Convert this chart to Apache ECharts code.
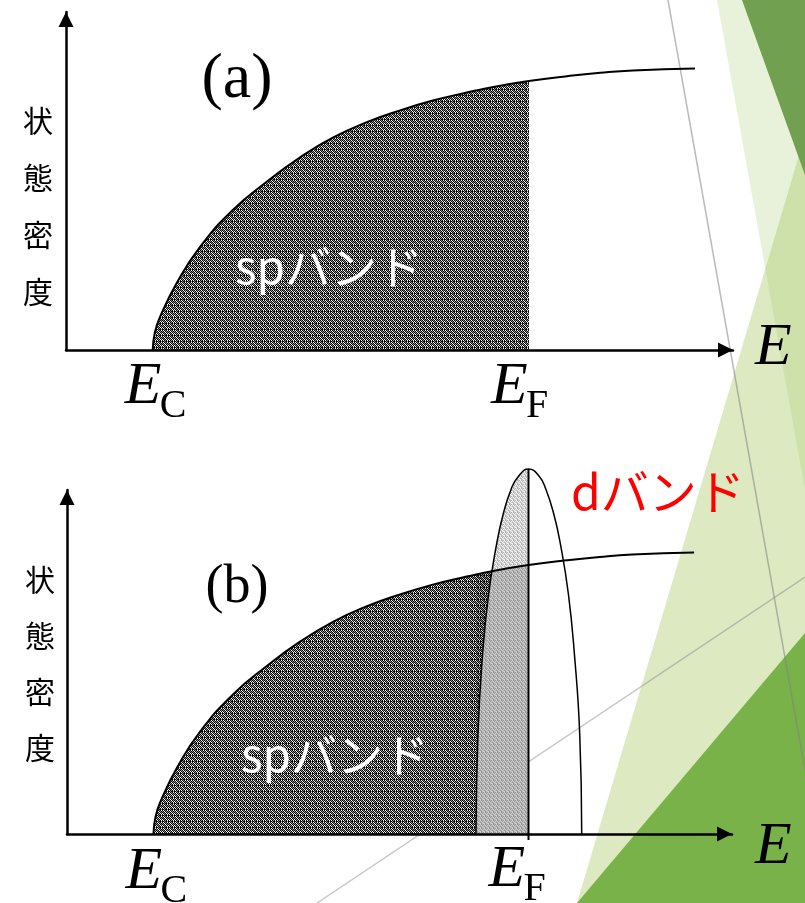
<!DOCTYPE html>
<html><head><meta charset="utf-8">
<script src="https://cdn.jsdelivr.net/npm/echarts@6/dist/echarts.min.js"></script>
<style>html,body{margin:0;padding:0;background:#fff}#c{width:805px;height:903px}</style>
</head><body><div id="c"></div>
<script>
// ---------- data (arbitrary units) ----------
const energy = [13.0, 13.3, 14.1, 16.6, 20.1, 25.0, 30.1, 35.1, 40.0, 45.1, 50.1, 55.0, 60.1, 61.5, 65.1, 69.4, 75.1, 80.1, 85.0, 94.3];
const spDos  = [0,    5.0,  9.8,  19.8, 30.5, 41.4, 49.8, 57.0, 62.8, 67.4, 70.9, 73.8, 76.2, 76.8, 78.2, 79.6, 81.0, 82.0, 82.7, 83.3];
const dEnergy = [61.5, 61.8, 62.5, 63.4, 64.6, 65.6, 66.8, 67.9, 69.4, 71.0, 72.0, 73.2, 74.2, 75.4, 76.3, 77.1, 77.4];
const dDos    = [0,    29.6, 53.3, 71.0, 85.8, 94.7, 102.1, 105.9, 108.0, 105.9, 102.1, 94.7, 85.8, 71.0, 53.3, 29.6, 0];
const E_C = 13.0;
const E_F = 69.4;
const dStart = 61.5;
const panelLabels = ['(a)', '(b)'];
const yAxisChars = ['状', '態', '密', '度'];
const spLabel = 'spバンド';
const dLabel = 'dバンド';
const axisName = 'E';
const subC = 'C', subF = 'F';

// ---------- helpers ----------
function pairs(xs, ys, lo, hi) {
  const out = [];
  for (let i = 0; i < xs.length; i++) if (xs[i] >= lo && xs[i] <= hi) out.push([xs[i], ys[i]]);
  return out;
}
function makePattern(rows) {
  const n = rows.length, m = rows[0].length;
  const c = document.createElement('canvas'); c.width = m; c.height = n;
  const ctx = c.getContext('2d');
  for (let i = 0; i < n; i++) for (let j = 0; j < m; j++) { ctx.fillStyle = rows[i][j]; ctx.fillRect(j, i, 1, 1); }
  return { image: c, repeat: 'repeat' };
}
const K = '#000', W = '#fff', G = '#8a8a8a';
const darkPat = makePattern([
  [K, W, K, G, K, W],
  [G, K, W, K, G, K],
  [K, G, K, W, K, G],
  [W, K, G, K, W, K],
  [K, W, K, G, K, W],
  [K, K, G, K, K, G]
]);
const L1 = '#f4f4f4', L2 = '#acacac', L3 = '#d0d0d0';
const lightPat = makePattern([
  [L1, L2, L3, L2],
  [L3, L1, L2, L1],
  [L2, L3, L1, L3],
  [L1, L2, L3, L1]
]);

function axLine() {
  return { show: true, onZero: false, symbol: ['none', 'triangle'], symbolSize: [15, 15], symbolOffset: [0, -7.5],
           lineStyle: { color: '#000', width: 2.5 } };
}
function xAx(gi) { return { gridIndex: gi, type: 'value', min: 0, max: 100, z: 5, axisLine: axLine(), axisTick: { show: false }, axisLabel: { show: false }, splitLine: { show: false } }; }
function yAx(gi, max) { return { gridIndex: gi, type: 'value', min: 0, max: max, z: 5, axisLine: axLine(), axisTick: { show: false }, axisLabel: { show: false }, splitLine: { show: false } }; }

const smoothOpt = { smooth: 0.5, showSymbol: false, symbol: 'none', silent: true, animation: false };

const chart = echarts.init(document.getElementById('c'), null, { renderer: 'canvas' });
chart.setOption({
  backgroundColor: '#fff',
  animation: false,
  grid: [
    { left: 66, top: 12, width: 667, height: 338 },
    { left: 67, top: 490, width: 665, height: 344 }
  ],
  xAxis: [xAx(0), xAx(1)],
  yAxis: [yAx(0, 100), yAx(1, 101.8)],
  series: [
    // panel (a)
    Object.assign({ type: 'line', xAxisIndex: 0, yAxisIndex: 0, z: 2, data: pairs(energy, spDos, E_C, E_F),
      lineStyle: { width: 0 }, areaStyle: { color: darkPat, opacity: 1 } }, smoothOpt),
    Object.assign({ type: 'line', xAxisIndex: 0, yAxisIndex: 0, z: 3, data: pairs(energy, spDos, -1, 1000),
      lineStyle: { width: 2, color: '#000' } }, smoothOpt),
    // panel (b)
    Object.assign({ type: 'line', xAxisIndex: 1, yAxisIndex: 1, z: 2, data: pairs(energy, spDos, E_C, E_F),
      lineStyle: { width: 0 }, areaStyle: { color: darkPat, opacity: 1 } }, smoothOpt),
    Object.assign({ type: 'line', xAxisIndex: 1, yAxisIndex: 1, z: 2, clip: false, data: pairs(dEnergy, dDos, 0, E_F),
      lineStyle: { width: 0 }, areaStyle: { color: lightPat, opacity: 1 } }, smoothOpt),
    Object.assign({ type: 'line', xAxisIndex: 1, yAxisIndex: 1, z: 2, data: pairs(energy, spDos, dStart, E_F),
      lineStyle: { width: 0 }, areaStyle: { color: 'rgba(0,0,0,0.15)', opacity: 1 } }, smoothOpt),
    Object.assign({ type: 'line', xAxisIndex: 1, yAxisIndex: 1, z: 3, data: pairs(energy, spDos, -1, 1000),
      lineStyle: { width: 2, color: '#000' } }, smoothOpt),
    Object.assign({ type: 'line', xAxisIndex: 1, yAxisIndex: 1, z: 3, clip: false, data: pairs(dEnergy, dDos, -1, 1000),
      lineStyle: { width: 1.5, color: '#000' } }, smoothOpt),
    { type: 'line', xAxisIndex: 1, yAxisIndex: 1, z: 4, clip: false, showSymbol: false, symbol: 'none', silent: true,
      data: [[E_F, -1.8], [E_F, Math.max.apply(null, dDos)]], lineStyle: { width: 2, color: '#000' } }
  ]
});

// ---------- text & decorations ----------
const pxA = v => chart.convertToPixel({ xAxisIndex: 0 }, v);
const pxB = v => chart.convertToPixel({ xAxisIndex: 1 }, v);
const serif = '"Liberation Serif", "DejaVu Serif", serif';
const sans = '"Noto Sans CJK JP", "Noto Sans", sans-serif';
function txt(text, x, y, font, fill, align, valign, extra) {
  return Object.assign({ type: 'text', x: x, y: y, z: 100, silent: true,
    style: Object.assign({ text: text, font: font, fill: fill, align: align, textAlign: align, verticalAlign: valign, textVerticalAlign: valign }, extra || {}) });
}
function eLabel(x, baseY, sub) {
  return [
    txt(axisName, x, baseY - 20, 'italic 60px ' + serif, '#000', 'left', 'middle'),
    txt(sub, x + 35, baseY + 13 - 13.5, '40px ' + serif, '#000', 'left', 'middle')
  ];
}
const deco = [
  { type: 'polygon', z: -10, silent: true, shape: { points: [[717, 0], [805, 0], [805, 490]] }, style: { fill: 'rgba(155,200,95,0.23)' } },
  { type: 'polygon', z: -9, silent: true, shape: { points: [[577, 903], [805, 135], [805, 903]] }, style: { fill: 'rgba(165,198,92,0.38)' } },
  { type: 'polygon', z: -8, silent: true, shape: { points: [[742, 0], [805, 0], [805, 175]] }, style: { fill: '#70a050' } },
  { type: 'polygon', z: -8, silent: true, shape: { points: [[577, 903], [805, 633], [805, 903]] }, style: { fill: '#7ab24a' } },
  { type: 'line', z: -7, silent: true, shape: { x1: 668, y1: 0, x2: 805, y2: 770 }, style: { stroke: 'rgba(130,130,130,0.55)', lineWidth: 1.5 } },
  { type: 'line', z: -7, silent: true, shape: { x1: 317, y1: 903, x2: 805, y2: 577 }, style: { stroke: 'rgba(130,130,130,0.45)', lineWidth: 1.5 } }
];
const texts = [
  txt(panelLabels[0], 237, 80, '64px ' + serif, '#000', 'center', 'middle'),
  txt(panelLabels[1], 237, 588, '54px ' + serif, '#000', 'center', 'middle'),
  txt(yAxisChars.join('\n'), 38, 92, '30px ' + sans, '#000', 'center', 'top', { lineHeight: 57 }),
  txt(yAxisChars.join('\n'), 40, 552, '30px ' + sans, '#000', 'center', 'top', { lineHeight: 56 }),
  txt(spLabel, 235, 267, '46px ' + sans, '#fff', 'left', 'middle'),
  txt(spLabel, 241, 755, '46px ' + sans, '#fff', 'left', 'middle'),
  txt(dLabel, 571, 492, '48px ' + sans, '#ff0000', 'left', 'middle'),
  txt(axisName, 755, 348, 'italic 60px ' + serif, '#000', 'left', 'middle'),
  txt(axisName, 755, 847, 'italic 60px ' + serif, '#000', 'left', 'middle')
]
  .concat(eLabel(pxA(E_C) - 28, 407, subC))
  .concat(eLabel(pxA(E_F) - 38, 407, subF))
  .concat(eLabel(pxB(E_C) - 28, 892, subC))
  .concat(eLabel(pxB(E_F) - 40, 890, subF));
chart.setOption({ graphic: { elements: deco.concat(texts) } });
</script></body></html>
